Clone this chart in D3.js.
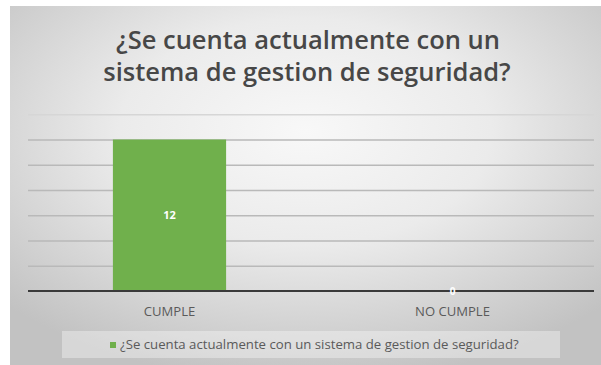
<!DOCTYPE html>
<html>
<head>
<meta charset="utf-8">
<script src="https://cdn.jsdelivr.net/npm/d3@7"></script>
<style>
  html, body { margin: 0; padding: 0; background: #ffffff; }
  svg { display: block; }
  text { font-family: "Open Sans", "Noto Sans", sans-serif; }
</style>
</head>
<body>
<svg id="chart" width="601" height="365"></svg>
<script>
// Chart data
const titleLines = ["¿Se cuenta actualmente con un", "sistema de gestion de seguridad?"];
const categories = ["CUMPLE", "NO CUMPLE"];
const values = [12, 0];
const seriesName = "¿Se cuenta actualmente con un sistema de gestion de seguridad?";
const yTicks = [0, 2, 4, 6, 8, 10, 12, 14];

const W = 601, H = 365;
const svg = d3.select("#chart");

// Scale a text element's font size so it spans the target width
function fitWidth(sel, target) {
  const node = sel.node();
  const fs = parseFloat(sel.attr("font-size"));
  const len = node.getComputedTextLength();
  sel.attr("font-size", (fs * target / len).toFixed(2));
}

// Background panel with soft radial shading
const defs = svg.append("defs");
const grad = defs.append("radialGradient")
  .attr("id", "bg").attr("cx", "50%").attr("cy", "35%").attr("r", "70%");
grad.append("stop").attr("offset", "0%").attr("stop-color", "#f8f8f8");
grad.append("stop").attr("offset", "45%").attr("stop-color", "#ebebeb");
grad.append("stop").attr("offset", "100%").attr("stop-color", "#c2c2c2");

svg.append("rect").attr("x", 10).attr("y", 6).attr("width", W - 10).attr("height", H - 6)
  .attr("fill", "url(#bg)");

// Title: one text element, wrapped over two lines
const probe = svg.append("text").attr("font-size", 26).attr("font-weight", 600).text(titleLines[0]);
fitWidth(probe, 384);
const titleSize = probe.attr("font-size");
probe.remove();

const title = svg.append("text")
  .attr("fill", "#474747").attr("font-weight", 600).attr("text-anchor", "middle")
  .attr("font-size", titleSize);
title.selectAll("tspan")
  .data(titleLines)
  .join("tspan")
  .attr("x", (d, i) => i === 0 ? 308 : 307)
  .attr("y", (d, i) => i === 0 ? 48.5 : 81)
  .text(d => d);

// Scales
const x = d3.scaleBand().domain(categories).range([28, 594]).paddingInner(0.6).paddingOuter(0.3);
const y = d3.scaleLinear().domain([0, 14]).range([291, 114.25]);

// Gridlines
const grid = svg.append("g")
  .attr("transform", "translate(28,0)")
  .call(d3.axisLeft(y).tickValues(yTicks.slice(1)).tickSize(-(594 - 28)).tickFormat(""));
grid.select(".domain").remove();
grid.selectAll(".tick line")
  .attr("stroke", d => d === 14 ? "#d6d6d6" : "#b9b9b9")
  .attr("stroke-width", 1.5);

// Bars
svg.append("g").selectAll("rect")
  .data(categories.map((c, i) => ({ c, v: values[i] })))
  .join("rect")
  .attr("x", d => x(d.c))
  .attr("width", x.bandwidth())
  .attr("y", d => y(d.v))
  .attr("height", d => y(0) - y(d.v))
  .attr("fill", "#70b04c");

// Category axis
const xAxis = svg.append("g")
  .attr("transform", `translate(0,${y(0)})`)
  .call(d3.axisBottom(x).tickSize(0).tickPadding(16));
xAxis.select(".domain")
  .attr("d", `M28,0H594`)
  .attr("stroke", "#3a3a3a").attr("stroke-width", 2);
xAxis.selectAll(".tick text")
  .attr("fill", "#5a5a5a")
  .attr("font-size", 12)
  .style("font-family", "\"Open Sans\", sans-serif");
xAxis.selectAll(".tick text").each(function (d) {
  if (d === "NO CUMPLE") fitWidth(d3.select(this), 75);
});
const axisSize = xAxis.selectAll(".tick text").filter(d => d === "NO CUMPLE").attr("font-size");
xAxis.selectAll(".tick text").attr("font-size", axisSize);

// Value labels
svg.append("g").selectAll("text")
  .data(categories.map((c, i) => ({ c, v: values[i] })))
  .join("text")
  .attr("x", d => x(d.c) + x.bandwidth() / 2)
  .attr("y", d => (y(d.v) + y(0)) / 2)
  .attr("dy", "0.35em")
  .attr("text-anchor", "middle")
  .attr("fill", "#ffffff")
  .attr("font-weight", 700)
  .attr("font-size", d => d.v === 0 ? 10 : 11)
  .text(d => d.v);

// Legend
svg.append("rect").attr("x", 62).attr("y", 331).attr("width", 498).attr("height", 27)
  .attr("fill", "#ffffff").attr("fill-opacity", 0.35);
svg.append("rect").attr("x", 110).attr("y", 342).attr("width", 6).attr("height", 6)
  .attr("fill", "#70b04c");
const lt = svg.append("text").attr("x", 120).attr("y", 349)
  .attr("fill", "#5a5a5a").attr("font-size", 11).text(seriesName);
fitWidth(lt, 399);
</script>
</body>
</html>
